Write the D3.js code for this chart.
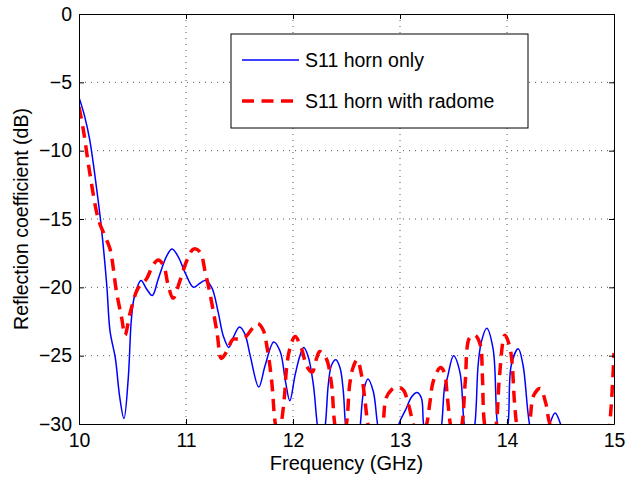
<!DOCTYPE html>
<html>
<head>
<meta charset="utf-8">
<script src="https://cdn.jsdelivr.net/npm/d3@7"></script>
<style>
  body { margin: 0; background: #fff; }
  svg { display: block; font-family: "Liberation Sans", Arial, Helvetica, sans-serif; }
</style>
</head>
<body>
<div id="chart"></div>
<script>
// Frequency (GHz) and S11 (dB)
const hornFreq = [10.00, 10.05, 10.10, 10.165, 10.21, 10.26, 10.29, 10.34, 10.38, 10.42,
    10.46, 10.49, 10.52, 10.58, 10.63, 10.685, 10.74, 10.82, 10.87, 10.93,
    10.99, 11.07, 11.13, 11.18, 11.24, 11.30, 11.35, 11.40, 11.44, 11.50,
    11.55, 11.60, 11.68, 11.74, 11.82, 11.88, 11.93, 11.97, 12.02, 12.065,
    12.10, 12.14, 12.19, 12.23, 12.265, 12.30, 12.33, 12.36, 12.40, 12.44,
    12.47, 12.49, 12.53, 12.60, 12.63, 12.66, 12.70, 12.75, 12.79, 12.85,
    12.94, 12.99, 13.05, 13.11, 13.16, 13.20, 13.22, 13.28, 13.34, 13.39,
    13.42, 13.44, 13.50, 13.56, 13.60, 13.65, 13.70, 13.73, 13.76, 13.81,
    13.87, 13.91, 13.96, 14.01, 14.04, 14.105, 14.15, 14.21, 14.30, 14.40,
    14.45, 14.50, 14.60, 14.80, 15.00];
const hornS11 = [-6.1, -7.4, -9.2, -12.8, -15.7, -19.9, -23.2, -25.2, -28.0, -29.6,
    -26.7, -22.3, -20.6, -19.5, -20.1, -20.6, -19.4, -17.7, -17.2, -17.8,
    -18.9, -20.0, -19.7, -19.5, -20.0, -21.8, -23.6, -24.4, -23.7, -22.9,
    -23.4, -25.0, -27.3, -25.7, -24.0, -24.7, -26.9, -28.3, -26.4, -25.0,
    -24.4, -25.0, -27.1, -30.2, -31.5, -30.2, -27.1, -25.7, -25.3, -25.9,
    -27.6, -30.0, -32.5, -32.5, -30.0, -27.6, -26.7, -27.6, -30.0, -32.5,
    -32.5, -30.0, -29.0, -28.0, -27.7, -28.1, -30.0, -32.5, -32.5, -30.0,
    -27.1, -26.7, -25.0, -26.2, -30.0, -32.0, -30.0, -25.7, -24.0, -23.0,
    -24.5, -30.0, -32.0, -30.0, -25.7, -24.5, -25.7, -30.0, -33.0, -30.0,
    -29.2, -30.0, -33.0, -34.0, -33.0];

const radomeFreq = [10.00, 10.04, 10.10, 10.18, 10.24, 10.29, 10.35, 10.40, 10.43, 10.48,
    10.55, 10.63, 10.69, 10.74, 10.79, 10.835, 10.88, 10.94, 11.01, 11.07,
    11.13, 11.18, 11.22, 11.29, 11.33, 11.38, 11.44, 11.50, 11.56, 11.62,
    11.67, 11.72, 11.76, 11.80, 11.835, 11.865, 11.89, 11.92, 11.94, 11.97,
    12.02, 12.08, 12.13, 12.18, 12.22, 12.25, 12.31, 12.36, 12.39, 12.445,
    12.50, 12.53, 12.56, 12.60, 12.64, 12.67, 12.70, 12.77, 12.84, 12.87,
    12.92, 12.97, 13.03, 13.08, 13.13, 13.19, 13.25, 13.28, 13.31, 13.37,
    13.39, 13.42, 13.44, 13.47, 13.52, 13.58, 13.61, 13.65, 13.70, 13.75,
    13.77, 13.79, 13.85, 13.90, 13.93, 13.98, 14.03, 14.07, 14.09, 14.15,
    14.21, 14.25, 14.31, 14.36, 14.40, 14.60, 14.90, 14.96, 15.00];
const radomeS11 = [-6.8, -8.45, -11.6, -15.0, -16.2, -17.2, -20.3, -22.3, -23.5, -21.8,
    -20.1, -19.4, -18.4, -18.0, -18.4, -19.9, -20.8, -19.6, -18.0, -17.2,
    -17.4, -18.9, -20.3, -23.3, -25.2, -24.7, -23.8, -23.8, -23.6, -23.0,
    -22.65, -23.1, -24.5, -26.8, -30.0, -31.0, -30.0, -28.0, -25.9, -24.5,
    -23.6, -24.5, -25.8, -26.2, -25.2, -24.7, -25.2, -27.1, -30.0, -32.0,
    -30.0, -27.1, -25.9, -25.3, -26.4, -28.1, -30.0, -32.5, -30.0, -28.1,
    -27.5, -27.3, -27.5, -28.6, -30.2, -31.5, -30.0, -28.4, -26.9, -25.9,
    -25.9, -26.4, -27.8, -30.0, -32.0, -30.0, -26.9, -23.7, -23.5, -24.2,
    -26.5, -30.0, -32.0, -30.0, -26.5, -23.5, -24.5, -28.4, -30.0, -32.0,
    -30.0, -27.9, -27.4, -28.4, -30.0, -34.0, -33.0, -30.0, -24.8];

const xTicks = [10, 11, 12, 13, 14, 15];
const yTicks = [-30, -25, -20, -15, -10, -5, 0];
const seriesNames = ["S11 horn only", "S11 horn with radome"];

const W = 639, H = 477;
const margin = { top: 14, right: 25, bottom: 53, left: 79 };
const width = W - margin.left - margin.right;
const height = H - margin.top - margin.bottom;

const svg = d3.select("#chart")
    .append("svg")
    .attr("width", W)
    .attr("height", H);

const g = svg.append("g")
    .attr("transform", `translate(${margin.left},${margin.top})`);

const x = d3.scaleLinear().domain([10, 15]).range([0, width]);
const y = d3.scaleLinear().domain([-30, 0]).range([height, 0]);

// dotted grid
g.append("g")
    .selectAll("line")
    .data(xTicks.slice(1, -1))
    .enter().append("line")
    .attr("x1", d => x(d)).attr("x2", d => x(d))
    .attr("y1", 0).attr("y2", height)
    .attr("stroke", "#555").attr("stroke-width", 1)
    .attr("stroke-dasharray", "1,5");

g.append("g")
    .selectAll("line")
    .data(yTicks.slice(1, -1))
    .enter().append("line")
    .attr("x1", 0).attr("x2", width)
    .attr("y1", d => y(d)).attr("y2", d => y(d))
    .attr("stroke", "#555").attr("stroke-width", 1)
    .attr("stroke-dasharray", "1,5");

// clip the curves to the axes box
svg.append("defs").append("clipPath")
    .attr("id", "plot-clip")
    .append("rect")
    .attr("width", width)
    .attr("height", height);

const line = d3.line()
    .x(d => x(d[0]))
    .y(d => y(d[1]))
    .curve(d3.curveCatmullRom.alpha(0.5));

const horn = hornFreq.map((f, i) => [f, hornS11[i]]);
const radome = radomeFreq.map((f, i) => [f, radomeS11[i]]);

const curves = g.append("g").attr("clip-path", "url(#plot-clip)");

curves.append("path")
    .datum(horn)
    .attr("fill", "none")
    .attr("stroke", "#0000ff")
    .attr("stroke-width", 1.5)
    .attr("d", line);

curves.append("path")
    .datum(radome)
    .attr("fill", "none")
    .attr("stroke", "#ff0000")
    .attr("stroke-width", 3.5)
    .attr("stroke-dasharray", "12,7.5")
    .attr("d", line);

// axes: ticks inside, box on all four sides
const fmt = d3.format("d");
g.append("g")
    .attr("transform", `translate(0,${height})`)
    .call(d3.axisBottom(x).tickValues(xTicks).tickSizeInner(-5).tickSizeOuter(0).tickPadding(9).tickFormat(fmt));
g.append("g")
    .call(d3.axisLeft(y).tickValues(yTicks).tickSizeInner(-5).tickSizeOuter(0).tickPadding(7).tickFormat(fmt));
g.append("g")
    .call(d3.axisTop(x).tickValues(xTicks).tickSizeInner(-5).tickSizeOuter(0).tickFormat(""));
g.append("g")
    .attr("transform", `translate(${width},0)`)
    .call(d3.axisRight(y).tickValues(yTicks).tickSizeInner(-5).tickSizeOuter(0).tickFormat(""));

g.selectAll(".domain").attr("stroke", "#000").attr("stroke-width", 1);
g.selectAll(".tick line").attr("stroke", "#000");
g.selectAll(".tick text")
    .attr("fill", "#000")
    .style("font-size", "19.5px")
    .style("font-family", "'Liberation Sans', Arial, sans-serif");

// axis labels
svg.append("text")
    .attr("x", margin.left + width / 2)
    .attr("y", 470)
    .attr("text-anchor", "middle")
    .style("font-size", "20px")
    .text("Frequency (GHz)");

svg.append("text")
    .attr("transform", `translate(28,${margin.top + height / 2}) rotate(-90)`)
    .attr("text-anchor", "middle")
    .style("font-size", "19.5px")
    .text("Reflection coefficient (dB)");

// legend
const legend = svg.append("g").attr("transform", "translate(231,34)");
legend.append("rect")
    .attr("width", 297)
    .attr("height", 94)
    .attr("fill", "#fff")
    .attr("stroke", "#000")
    .attr("stroke-width", 1);

const legendStyles = [
    { color: "#0000ff", width: 1.5, dash: null, end: 68 },
    { color: "#ff0000", width: 3.5, dash: "12,7.5", end: 62 }
];

seriesNames.forEach((name, i) => {
    const ly = 26 + i * 41;
    legend.append("line")
        .attr("x1", 11).attr("x2", legendStyles[i].end)
        .attr("y1", ly).attr("y2", ly)
        .attr("stroke", legendStyles[i].color)
        .attr("stroke-width", legendStyles[i].width)
        .attr("stroke-dasharray", legendStyles[i].dash);
    legend.append("text")
        .attr("x", 74)
        .attr("y", ly)
        .attr("dy", "0.35em")
        .style("font-size", "19.5px")
        .text(name);
});
</script>
</body>
</html>
